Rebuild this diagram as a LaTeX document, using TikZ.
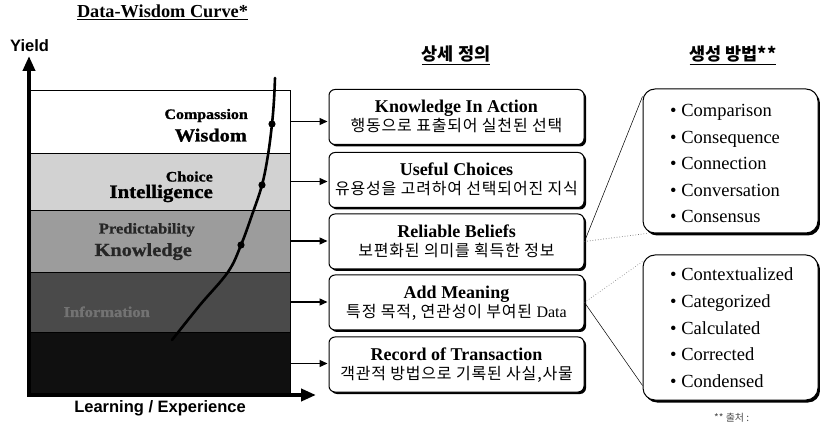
\documentclass[tikz,border=0pt]{standalone}
\usepackage{fontspec}
\setmainfont{Liberation Serif}
\newfontfamily\kr{Noto Sans CJK KR}
\newfontfamily\krw{Noto Sans CJK KR}[LetterSpace=5]
\newfontfamily\arialf{Liberation Sans}
\newfontfamily\layerf{Liberation Serif}[FakeStretch=1.1, FakeBold=1.2]
\usetikzlibrary{arrows.meta,shadows,calc}
\newcommand\fsz[1]{\fontsize{#1}{#1}\selectfont}
\definecolor{lay2}{HTML}{D2D2D2}
\definecolor{lay3}{HTML}{9C9C9C}
\definecolor{lay4}{HTML}{4A4A4A}
\definecolor{lay5}{HTML}{101010}
\tikzset{
  stratum/.style={draw=black, line width=0.8pt, minimum width=260pt, minimum height=#1, inner sep=0pt, outer sep=0pt, anchor=north west},
  defbox/.style={draw=black, line width=1pt, rounded corners=6pt, fill=white, minimum width=255pt, minimum height=55pt, inner sep=0pt,
     general shadow={fill=black, shadow xshift=2pt, shadow yshift=-2pt}},
  bulletbox/.style={draw=black, line width=1pt, rounded corners=12pt, fill=white, minimum width=175pt, minimum height=#1, inner sep=0pt,
     general shadow={fill=black, shadow xshift=2pt, shadow yshift=-2.5pt}},
  boxtitle/.style={font=\bfseries\fsz{18}, anchor=base, inner sep=0pt},
  boxkr/.style={font=\krw\fsz{16}, anchor=base, inner sep=0pt},
  bul/.style={font=\fsz{18.5}, anchor=base west, inner sep=0pt},
  laylab/.style={font=\layerf\bfseries\fsz{#1}, anchor=base east, inner sep=0pt},
  conn/.style={line width=1.3pt, -{Triangle[length=8pt,width=7pt]}, shorten >=1pt},
  axis/.style={line width=3.8pt, -{Triangle[length=15pt,width=12pt]}},
  hdr/.style={font=\kr\bfseries\fsz{#1}, anchor=base, inner sep=0pt},
}
\begin{document}
\begin{tikzpicture}[x=1pt,y=-1pt]
\useasboundingbox (0,0) rectangle (820,422);
% headings
\node[font=\bfseries\fsz{18.3}, anchor=base, inner sep=0pt] (title) at (162.5,18) {\underline{Data-Wisdom Curve*}};
\node[hdr=17.5] (h1) at (456,61) {\underline{상세 정의}};
\node[hdr=17.5] (h2) at (733,61) {\underline{생성 방법**}};
% layers
\node[stratum=63pt, fill=white] (L1) at (30,90) {};
\node[stratum=57pt, fill=lay2] (L2) at (30,153) {};
\node[stratum=62pt, fill=lay3] (L3) at (30,210) {};
\node[stratum=60pt, fill=lay4] (L4) at (30,272) {};
\node[stratum=63pt, fill=lay5] (L5) at (30,332) {};
% layer labels
\node[laylab=14.5] (c1) at (248,119) {Compassion};
\node[laylab=18.5] (w1) at (247,141.5) {Wisdom};
\node[laylab=14.5] (c2) at (213,181.5) {Choice};
\node[laylab=19] (w2) at (213,198) {Intelligence};
\node[laylab=15, text=black!85] (c3) at (195,233.5) {Predictability};
\node[laylab=18.5, text=black!85] (w3) at (192,256) {Knowledge};
\node[laylab=15, text=black!55] (w4) at (150,317) {Information};
% curve
\draw[line width=2.6pt, line cap=round] plot[smooth, tension=0.6] coordinates
  {(172,340) (200,305) (228,272) (241,245) (252,215) (262,185) (268,155) (272,124) (274,100) (275,78)};
\fill (272,124) circle (3.6pt) (262,185) circle (3.6pt) (241,245) circle (3.6pt);
% axes
\coordinate (O) at (29,395);
\coordinate (Ytop) at (29,56);
\coordinate (Xend) at (316,395);
\draw[axis] (O) -- (Ytop);
\draw[axis] (27,395) -- (Xend);
\node[font=\arialf\bfseries\fsz{16.5}, anchor=base west, inner sep=0pt] (ylab) at (10,52) {Yield};
\node[font=\arialf\bfseries\fsz{16.5}, anchor=base, inner sep=0pt] (xlab) at (160,412) {Learning / Experience};
% definition boxes
\node[defbox] (B1) at (456.5,117) {};
\node[defbox] (B2) at (456.5,180) {};
\node[defbox] (B3) at (456.5,241.5) {};
\node[defbox] (B4) at (456.5,302.5) {};
\node[defbox] (B5) at (456.5,364.5) {};
\node[boxtitle] (t1) at ($(B1.center)+(0,-4)$) {Knowledge In Action};
\node[boxkr] (k1) at ($(B1.center)+(0,15)$) {행동으로 표출되어 실천된 선택};
\node[boxtitle] (t2) at ($(B2.center)+(0,-4)$) {Useful Choices};
\node[boxkr] (k2) at ($(B2.center)+(0,15)$) {유용성을 고려하여 선택되어진 지식};
\node[boxtitle] (t3) at ($(B3.center)+(0,-4)$) {Reliable Beliefs};
\node[boxkr] (k3) at ($(B3.center)+(0,15)$) {보편화된 의미를 획득한 정보};
\node[boxtitle] (t4) at ($(B4.center)+(0,-4)$) {Add Meaning};
\node[boxkr] (k4) at ($(B4.center)+(0,15)$) {특정 목적, 연관성이 부여된 {\rmfamily Data}};
\node[boxtitle] (t5) at ($(B5.center)+(0,-4)$) {Record of Transaction};
\node[boxkr] (k5) at ($(B5.center)+(0,15)$) {객관적 방법으로 기록된 사실,사물};
% arrows
\foreach \i in {1,...,5}{
  \draw[conn] (L\i.east) -- (L\i.east -| B\i.west);
}
% bullet boxes
\node[bulletbox=144pt] (P1) at (730.5,161) {};
\node[bulletbox=145pt] (P2) at (730.5,327.5) {};
\node[bul] (b1) at (670,117) {• Comparison};
\node[bul] (b2) at (670,143.4) {• Consequence};
\node[bul] (b3) at (670,169.8) {• Connection};
\node[bul] (b4) at (670,196.2) {• Conversation};
\node[bul] (b5) at (670,222.6) {• Consensus};
\node[bul] (b6) at (670,281) {• Contextualized};
\node[bul] (b7) at (670,307.6) {• Categorized};
\node[bul] (b8) at (670,334.2) {• Calculated};
\node[bul] (b9) at (670,360.8) {• Corrected};
\node[bul] (b10) at (670,387.3) {• Condensed};
% callout lines
\coordinate (p1a) at ($(P1.north west)+(0,8)$);
\coordinate (p1b) at ($(P1.south west)+(4,0)$);
\coordinate (p2a) at ($(P2.north west)+(0,7)$);
\coordinate (p2b) at ($(P2.south west)+(0,-15)$);
\draw[line width=0.5pt] (B3.east) -- (p1a);
\draw[line width=0.7pt, dotted, black!60] (B3.east) -- (p1b);
\draw[line width=0.7pt, dotted, black!45] (B4.east) -- (p2a);
\draw[line width=0.5pt] (B4.east) -- (p2b);
% footnote
\node[font=\kr\fsz{10}, text=black!70, anchor=base west, inner sep=0pt] (fn) at (714,421) {** 출처 :};
\end{tikzpicture}
\end{document}
